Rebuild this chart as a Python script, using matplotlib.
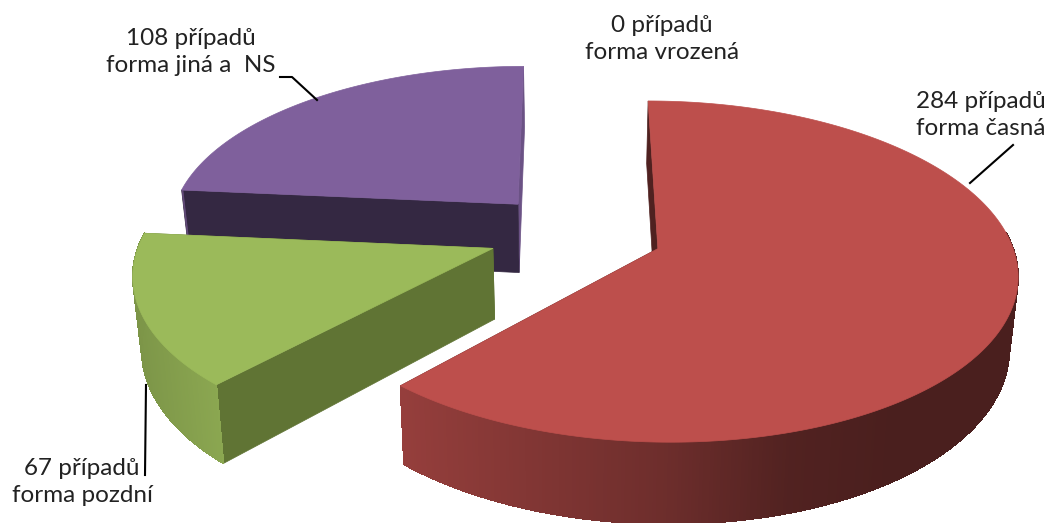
#!/usr/bin/env python3
"""
Exploded 3D pie of case counts by form
"""

import numpy as np
import matplotlib
matplotlib.use('Agg')
import matplotlib.pyplot as plt
from matplotlib.collections import PolyCollection
from matplotlib.colors import to_rgb

plt.rcParams['font.family'] = ['Lato', 'DejaVu Sans']

# order is clockwise from the top
forms = ['forma vrozená', 'forma časná', 'forma pozdní', 'forma jiná a  NS']
cases = [0, 284, 67, 108]
top_colors = ['#4F81BD', '#BD4F4C', '#9BBA5A', '#7F609C']
cut_colors = ['#2C4D75', '#4F2120', '#607434', '#342842']
end_colors = ['#2C4D75', '#4F2120', '#607434', '#6B5285']

# view of the pie, in pixels of the output
CX, CY = 575.5, 233.6
RX, RY = 351.0, 163.5
PERSP = 0.133
DEPTH = 70.0
EXPLODE = 0.249
BOTTOM_X = 0.98


def project(u, v, low=False):
    """Plane coordinates of the pie to image pixels"""
    w = 1 + PERSP * v
    x = RX * u / w
    y = CY - RY * v / w
    if low:
        return CX + x * BOTTOM_X, y + DEPTH / w
    return CX + x, y


def rim_color(base, x):
    """Shade of the round side, gets darker to the right"""
    t = np.interp(x, [400, 665, 792, 900, 1020], [0.79, 0.58, 0.43, 0.39, 0.39])
    if base == top_colors[2]:
        t = np.interp(x, [130, 220], [0.80, 0.90])
    return tuple(c * t for c in to_rgb(base))


def draw_slice(ax, start, end, top, cut, side):
    """Draw one slice, angles in degrees clockwise from the top"""
    mid = np.radians((start + end) / 2)
    ou, ov = EXPLODE * np.sin(mid), EXPLODE * np.cos(mid)
    ang = np.radians(np.arange(start, end + 0.25, 0.5))
    u = ou + np.sin(ang)
    v = ov + np.cos(ang)
    hx, hy = project(u, v)
    lx, ly = project(u, v, low=True)
    ax_, ay_ = project(ou, ov)
    bx_, by_ = project(ou, ov, low=True)

    # the two cut faces
    ax.fill([ax_, hx[-1], lx[-1], bx_], [ay_, hy[-1], ly[-1], by_],
            color=cut, lw=0.5, zorder=1)
    ax.fill([ax_, hx[0], lx[0], bx_], [ay_, hy[0], ly[0], by_],
            color=side, lw=0.5, zorder=1)

    # round side as thin strips, only the part turned to the viewer
    quads = []
    colors = []
    for i in range(len(ang) - 1):
        if np.cos(ang[i]) > 0.1:
            continue
        quads.append([(hx[i], hy[i]), (hx[i + 1], hy[i + 1]),
                      (lx[i + 1], ly[i + 1]), (lx[i], ly[i])])
        colors.append(rim_color(top, hx[i]))
    if quads:
        ax.add_collection(PolyCollection(quads, facecolors=colors, edgecolors=colors,
                                         linewidths=0.5, antialiaseds=False, zorder=2))

    ax.fill(np.r_[ax_, hx], np.r_[ay_, hy], color=top, lw=0.5, zorder=3)


fig = plt.figure(figsize=(10.53, 5.23), dpi=100)
ax = fig.add_axes([0, 0, 1, 1])
ax.set_xlim(0, 1053)
ax.set_ylim(523, 0)
ax.axis('off')

angles = np.r_[0, np.cumsum(cases)] / sum(cases) * 360
for i in [3, 2, 1]:
    draw_slice(ax, angles[i], angles[i + 1], top_colors[i], end_colors[i], cut_colors[i])

# labels and leader lines
label_pos = [(662, 39), (981, 115), (82, 482), (191, 52)]
leaders = [None,
           ([1013, 970], [145, 183]),
           ([146, 145], [385, 475]),
           ([280, 292, 317], [77, 77, 100])]
for form, n, pos, line in zip(forms, cases, label_pos, leaders):
    ax.text(pos[0], pos[1], f"{n} případů\n{form}", ha='center', va='center',
            fontsize=17.5, color='#222222', linespacing=1.38, zorder=5)
    if line:
        ax.plot(line[0], line[1], color='black', lw=1.5, zorder=4)

plt.savefig('out.png', dpi=100)
